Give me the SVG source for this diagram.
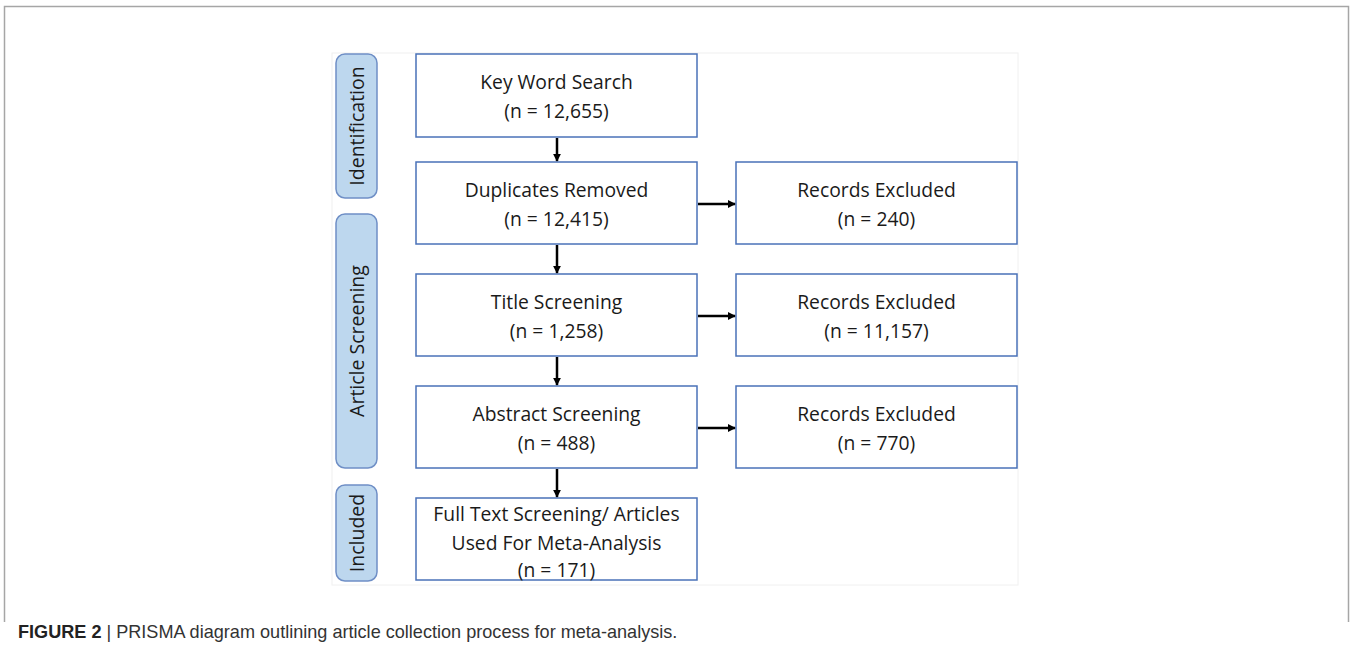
<svg xmlns="http://www.w3.org/2000/svg" width="1352" height="654" viewBox="0 0 1352 654">
<style>
.box{fill:#ffffff;stroke:#4a72b8;stroke-width:1.5}
.side{fill:#bdd7ee;stroke:#6f8fc6;stroke-width:1.5}
.t{font-family:"Open Sans",sans-serif;font-size:19.3px;fill:#1a1a1a;text-anchor:middle}
.st{font-family:"Open Sans",sans-serif;font-size:19.5px;fill:#1a1a1a;text-anchor:middle}
.conn{stroke:#000;stroke-width:2.5;fill:none}
.cap{font-family:"Liberation Sans",Arial,sans-serif;font-size:18.1px;fill:#333}
</style>
<defs>
<marker id="ah" viewBox="0 0 10 10" refX="9" refY="5" markerWidth="3.2" markerHeight="3.2" orient="auto" markerUnits="strokeWidth">
<path d="M0,0 L10,5 L0,10 z" fill="#000"/>
</marker>
</defs>
<rect x="0" y="0" width="1352" height="654" fill="#ffffff"/>
<path d="M4.5,622 V6.5 H1348.5 V622" fill="none" stroke="#a6a6a6" stroke-width="1.5"/>
<rect x="332" y="53" width="686" height="532" fill="#ffffff" stroke="#f0f0f0" stroke-width="1"/>

<g id="side-identification">
<rect class="side" x="336" y="54" width="41" height="144" rx="9"/>
<text class="st" transform="translate(364,126) rotate(-90)" font-size="20.5">Identification</text>
</g>
<g id="side-screening">
<rect class="side" x="336" y="214" width="41" height="254" rx="9"/>
<text class="st" transform="translate(364,341) rotate(-90)">Article Screening</text>
</g>
<g id="side-included">
<rect class="side" x="336" y="485" width="41" height="96" rx="9"/>
<text class="st" transform="translate(364,533) rotate(-90)">Included</text>
</g>

<g id="n-keyword">
<rect class="box" x="416" y="54" width="281" height="83"/>
<text class="t" x="556.5" y="89">Key Word Search</text>
<text class="t" x="556.5" y="118">(n = 12,655)</text>
</g>
<g id="n-duplicates">
<rect class="box" x="416" y="162" width="281" height="82"/>
<text class="t" x="556.5" y="197">Duplicates Removed</text>
<text class="t" x="556.5" y="226">(n = 12,415)</text>
</g>
<g id="n-excl1">
<rect class="box" x="736" y="162" width="281" height="82"/>
<text class="t" x="876.5" y="197">Records Excluded</text>
<text class="t" x="876.5" y="226">(n = 240)</text>
</g>
<g id="n-title">
<rect class="box" x="416" y="274" width="281" height="82"/>
<text class="t" x="556.5" y="309">Title Screening</text>
<text class="t" x="556.5" y="338">(n = 1,258)</text>
</g>
<g id="n-excl2">
<rect class="box" x="736" y="274" width="281" height="82"/>
<text class="t" x="876.5" y="309">Records Excluded</text>
<text class="t" x="876.5" y="338">(n = 11,157)</text>
</g>
<g id="n-abstract">
<rect class="box" x="416" y="386" width="281" height="82"/>
<text class="t" x="556.5" y="421">Abstract Screening</text>
<text class="t" x="556.5" y="450">(n = 488)</text>
</g>
<g id="n-excl3">
<rect class="box" x="736" y="386" width="281" height="82"/>
<text class="t" x="876.5" y="421">Records Excluded</text>
<text class="t" x="876.5" y="450">(n = 770)</text>
</g>
<g id="n-fulltext">
<rect class="box" x="416" y="498" width="281" height="82"/>
<text class="t" x="556.5" y="521">Full Text Screening/ Articles</text>
<text class="t" x="556.5" y="550">Used For Meta-Analysis</text>
<text class="t" x="556.5" y="577">(n = 171)</text>
</g>

<g id="connectors">
<line class="conn" x1="557" y1="138" x2="557" y2="161" marker-end="url(#ah)"/>
<line class="conn" x1="557" y1="245" x2="557" y2="273" marker-end="url(#ah)"/>
<line class="conn" x1="557" y1="357" x2="557" y2="385" marker-end="url(#ah)"/>
<line class="conn" x1="557" y1="469" x2="557" y2="497" marker-end="url(#ah)"/>
<line class="conn" x1="698" y1="204" x2="735" y2="204" marker-end="url(#ah)"/>
<line class="conn" x1="698" y1="316" x2="735" y2="316" marker-end="url(#ah)"/>
<line class="conn" x1="698" y1="428" x2="735" y2="428" marker-end="url(#ah)"/>
</g>

<text class="cap" x="18" y="638"><tspan font-weight="bold" fill="#222">FIGURE 2</tspan> | PRISMA diagram outlining article collection process for meta-analysis.</text>
</svg>
